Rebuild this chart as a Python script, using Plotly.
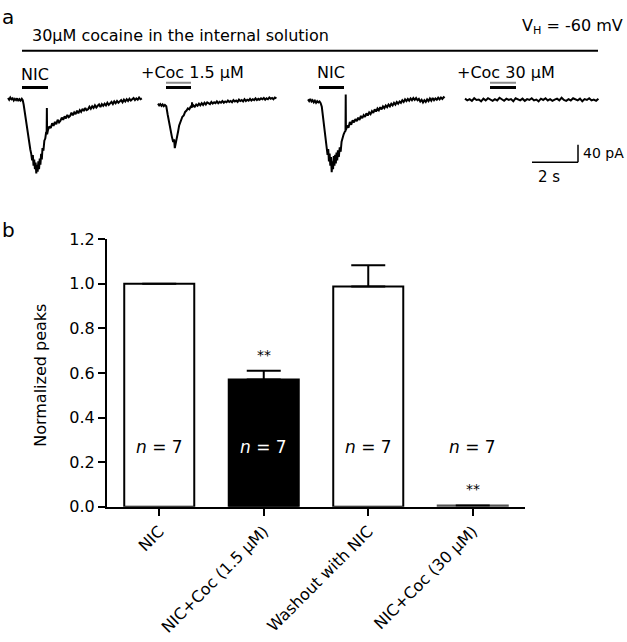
import plotly.graph_objects as go

FONT = "DejaVu Sans"

# ---------------- Panel b data ----------------
categories = ["NIC", "NIC+Coc (1.5 \u03bcM)", "Washout with NIC", "NIC+Coc (30 \u03bcM)"]
peaks = [1.0, 0.57, 0.987, 0.006]
sem = [0.0, 0.04, 0.095, 0.0]
n_labels = ["<i>n</i> = 7", "<i>n</i> = 7", "<i>n</i> = 7", "<i>n</i> = 7"]
sig_marks = ["", "**", "", "**"]

# ---------------- Panel a data (time s, current pA) ----------------
t1 = [0.00,0.05,0.10,0.15,0.20,0.25,0.30,0.35,0.40,0.45,0.50,0.55,0.60,0.64,
      0.68,0.74,0.80,0.86,0.92,0.97,1.01,1.05,1.08,1.11,1.14,
      1.17,1.20,1.23,1.26,1.29,1.32,1.35,1.38,1.41,1.44,1.47,1.50,1.54,1.58,1.62,1.66,1.68,1.69,1.70,
      1.74,1.80,1.86,1.92,1.98,2.04,2.10,2.16,2.22,2.28,2.34,2.40,2.46,2.52,2.58,2.64,2.70,2.76,2.82,2.88,
      2.94,3.00,3.06,3.12,3.18,3.24,3.30,3.36,3.42,3.48,3.54,3.60,3.66,3.72,3.78,3.84,3.90,3.96,4.02,4.08,
      4.14,4.20,4.26,4.32,4.38,4.44,4.50,4.56,4.62,4.68,4.74,4.80,4.86,4.92,4.98,5.04,5.10,5.16,5.22,5.28,
      5.34,5.40,5.46,5.52,5.58,5.64,5.70,5.76,5.82]
i1 = [3,-1,4,0,2,-3,1,-2,2,-4,0,-3,1,-2,
      -12,-35,-58,-80,-100,-115,-125,-140,-128,-152,-138,
      -160,-145,-170,-150,-166,-142,-160,-136,-150,-125,-138,-112,-118,-95,-90,-75,-78,-20,-80,
      -70,-62,-66,-55,-61,-52,-57,-47,-53,-49,-42,-47,-39,-44,-36,-41,-38,-31,-37,-30,
      -34,-26,-32,-25,-29,-22,-27,-20,-25,-23,-17,-22,-16,-20,-14,-19,-15,-12,-18,-11,
      -15,-10,-14,-8,-13,-9,-6,-11,-5,-9,-4,-8,-6,-2,-7,-1,-5,0,-4,1,
      -3,-1,3,-2,2,-1,4,0,2]

t2 = [0.00,0.05,0.10,0.15,0.20,0.25,0.30,0.36,0.42,0.48,0.54,0.60,0.66,0.70,0.73,0.76,0.80,0.84,0.88,0.92,0.96,
      1.00,1.06,1.12,1.18,1.24,1.30,1.36,1.42,1.47,1.48,1.49,1.54,1.60,1.66,1.72,1.78,1.84,1.90,1.96,2.02,
      2.08,2.14,2.20,2.26,2.32,2.38,2.44,2.50,2.56,2.62,2.68,2.74,2.80,2.86,2.92,2.98,3.04,3.10,3.16,3.22,
      3.28,3.34,3.40,3.46,3.52,3.58,3.64,3.70,3.76,3.82,3.88,3.94,4.00,4.06,4.12,4.18,4.24,4.30,4.36,4.42,
      4.48,4.54,4.60,4.66,4.72,4.78,4.84,4.90,4.96,5.02,5.08,5.15]
i2 = [0,-4,-1,-5,-2,-6,-3,-6,-25,-45,-60,-75,-88,-82,-102,-92,-85,-70,-62,-50,-44,
      -38,-30,-27,-19,-16,-11,-13,-7,-9,3,-8,-4,-7,-2,-5,0,-4,1,-3,2,
      -2,3,0,-1,4,0,3,1,5,1,4,2,6,2,5,3,7,4,6,3,
      8,5,7,4,9,6,8,5,10,6,9,7,11,7,10,8,12,8,11,9,
      12,10,13,9,12,10,14,11,13,10,14,12]

t3 = [0.00,0.05,0.10,0.15,0.20,0.25,0.30,0.35,0.40,0.45,0.50,0.55,0.60,
      0.66,0.72,0.77,0.81,0.85,0.88,0.91,0.94,0.97,
      1.00,1.03,1.06,1.09,1.12,1.15,1.18,1.21,1.24,1.27,1.30,1.34,1.38,1.42,1.46,1.50,1.55,1.60,1.63,1.64,
      1.65,1.70,1.76,1.82,1.88,1.94,2.00,2.06,2.12,2.18,2.24,2.30,2.36,2.42,2.48,2.54,2.60,2.66,2.72,2.78,
      2.84,2.90,2.96,3.02,3.08,3.14,3.20,3.26,3.32,3.38,3.44,3.50,3.56,3.62,3.68,3.74,3.80,3.86,3.92,3.98,
      4.04,4.10,4.16,4.22,4.28,4.34,4.40,4.46,4.52,4.58,4.64,4.70,4.76,4.82,4.88,4.94,5.00,5.06,5.12,5.18,
      5.24,5.30,5.36,5.42,5.48,5.54,5.60,5.66,5.72,5.78,5.84,5.90,5.94]
i3 = [2,-2,3,-3,0,-5,-1,-6,-2,-5,-3,-7,-15,
      -40,-70,-90,-108,-125,-112,-140,-122,-150,
      -130,-165,-140,-158,-128,-150,-125,-145,-120,-138,-115,-130,-108,-118,-95,-85,-78,-72,-70,13,
      -68,-58,-63,-50,-56,-46,-51,-43,-48,-40,-45,-36,-41,-34,-38,-30,-35,-28,-32,-25,
      -29,-21,-26,-19,-23,-16,-21,-14,-18,-12,-16,-10,-14,-8,-12,-6,-10,-4,-8,-3,
      -6,0,-4,2,-2,3,-1,4,0,5,1,5,0,3,-3,1,-5,0,-4,2,
      -2,4,-1,5,0,4,1,6,2,6,3,7,5]

t4 = [0.0,0.1,0.2,0.3,0.4,0.5,0.6,0.7,0.8,0.9,1.0,1.1,1.2,1.3,1.4,1.5,1.6,1.7,1.8,1.9,
      2.0,2.1,2.2,2.3,2.4,2.5,2.6,2.7,2.8,2.9,3.0,3.1,3.2,3.3,3.4,3.5,3.6,3.7,3.8,3.9,
      4.0,4.1,4.2,4.3,4.4,4.5,4.6,4.7,4.8,4.9,5.0,5.1,5.2,5.3,5.4,5.5,5.6,5.7,5.8]
i4 = [2,-2,1,-3,3,-1,0,-4,2,-2,3,-1,-3,1,-2,4,0,-3,2,-1,
      1,-4,3,0,-2,2,-3,1,-1,3,-2,0,-4,2,-1,3,-2,1,-3,0,
      2,-2,4,-1,-3,1,-2,3,0,-2,2,-4,1,-1,3,-2,0,-3,2]

traces_a = [(t1, i1), (t2, i2), (t3, i3), (t4, i4)]

# ---------------- layout helpers (pixel mapping) ----------------
W, H = 627, 642
PX_PER_S = 23.0
PX_PER_PA = 0.45
A_TOP, A_BOT, A_BASE = 50, 180, 94


def px_to_s(px):
    return px / PX_PER_S


def py_to_pa(py):
    return (A_BASE - py) / PX_PER_PA


def pxx(px):
    return px / W


def pxy(py):
    return 1 - py / H


trace_start_px = [8, 158, 308, 465]
trace_base_px = [93, 97.5, 94, 93.3]

fig = go.Figure()

for (tt, ii), sx, by in zip(traces_a, trace_start_px, trace_base_px):
    off_t = px_to_s(sx)
    off_i = py_to_pa(by)
    fig.add_trace(go.Scatter(
        x=[off_t + v for v in tt], y=[off_i + v for v in ii],
        mode="lines", line=dict(color="black", width=2),
        xaxis="x2", yaxis="y2", showlegend=False, hoverinfo="skip"))

fig.add_trace(go.Bar(
    x=categories, y=peaks,
    marker=dict(color=["white", "black", "white", "white"],
                line=dict(color=["black", "black", "black", "#555555"], width=2)),
    width=0.67,
    error_y=dict(type="data", symmetric=False, array=sem, arrayminus=[0] * 4,
                 color="black", thickness=2, width=17),
    showlegend=False, hoverinfo="skip"))

shapes = []
shapes.append(dict(type="line", xref="paper", yref="paper",
                   x0=pxx(22), x1=pxx(598), y0=pxy(43), y1=pxy(43),
                   line=dict(color="black", width=2)))
black_bars = [(22, 48), (166, 191), (319, 344), (490, 516)]
for x0, x1 in black_bars:
    shapes.append(dict(type="line", xref="x2", yref="y2",
                       x0=px_to_s(x0), x1=px_to_s(x1), y0=py_to_pa(81), y1=py_to_pa(81),
                       line=dict(color="black", width=3)))
for x0, x1 in [black_bars[1], black_bars[3]]:
    shapes.append(dict(type="line", xref="x2", yref="y2",
                       x0=px_to_s(x0), x1=px_to_s(x1), y0=py_to_pa(76), y1=py_to_pa(76),
                       line=dict(color="#8c8c8c", width=2)))
sb_x0 = px_to_s(532)
sb_y0 = py_to_pa(158)
shapes.append(dict(type="line", xref="x2", yref="y2", x0=sb_x0, x1=sb_x0 + 2,
                   y0=sb_y0, y1=sb_y0, line=dict(color="black", width=1.5)))
shapes.append(dict(type="line", xref="x2", yref="y2", x0=sb_x0 + 2, x1=sb_x0 + 2,
                   y0=sb_y0, y1=sb_y0 + 40, line=dict(color="black", width=1.5)))

ann = []


def txt(text, x, y, size=16, xanchor="center", yanchor="middle", color="black", angle=0):
    ann.append(dict(text=text, x=pxx(x), y=pxy(y), xref="paper", yref="paper",
                    showarrow=False, xanchor=xanchor, yanchor=yanchor, textangle=angle,
                    font=dict(family=FONT, size=size, color=color)))


txt("a", 0, 8, size=20, xanchor="left")
txt("30\u03bcM cocaine in the internal solution", 30, 27, size=16, xanchor="left")
txt("V<sub>H</sub> = -60 mV", 625, 18, size=16, xanchor="right")
txt("NIC", 35, 67, size=16)
txt("+Coc 1.5 \u03bcM", 192, 65, size=16)
txt("NIC", 331, 65, size=16)
txt("+Coc 30 \u03bcM", 506, 65, size=16)
txt("40 pA", 626, 148, size=14, xanchor="right")
txt("2 s", 549, 173, size=15)
txt("b", 0, 228, size=20, xanchor="left")
txt("Normalized peaks", 41, 378, size=16, angle=-90)

for c, lab, v in zip(categories, n_labels, peaks):
    ann.append(dict(text=lab, x=c, y=0.27, xref="x", yref="y", showarrow=False,
                    font=dict(family=FONT, size=17,
                              color="white" if 0.3 < v < 0.8 else "black")))
for c, s, y in zip(categories, sig_marks, [0, 0.678, 0, 0.078]):
    if s:
        ann.append(dict(text=s, x=c, y=y, xref="x", yref="y", showarrow=False,
                        font=dict(family=FONT, size=14, color="black")))

fig.update_layout(
    width=W, height=H, margin=dict(l=0, r=0, t=0, b=0),
    paper_bgcolor="white", plot_bgcolor="white",
    font=dict(family=FONT, size=16, color="black"),
    shapes=shapes, annotations=ann,
    xaxis=dict(domain=[pxx(107), pxx(525)], range=[-0.5, 3.5], type="category",
               showline=True, linecolor="black", linewidth=2, ticks="outside",
               ticklen=7, tickwidth=2, tickcolor="black", tickangle=-45,
               tickfont=dict(family=FONT, size=16), showgrid=False, zeroline=False,
               anchor="y"),
    yaxis=dict(domain=[pxy(513), pxy(237)], range=[0, 1.2], dtick=0.2, tickformat=".1f",
               showline=True, linecolor="black", linewidth=2, ticks="outside",
               ticklen=7, tickwidth=2, tickcolor="black",
               tickfont=dict(family=FONT, size=16), showgrid=False, zeroline=False,
               anchor="x"),
    xaxis2=dict(domain=[0, 1], range=[0, W / PX_PER_S], visible=False, anchor="y2"),
    yaxis2=dict(domain=[pxy(A_BOT), pxy(A_TOP)],
                range=[py_to_pa(A_BOT), py_to_pa(A_TOP)], visible=False, anchor="x2"),
)

fig.write_html("out.html", config={"displayModeBar": False},
               post_script="document.body.style.margin='0';")
